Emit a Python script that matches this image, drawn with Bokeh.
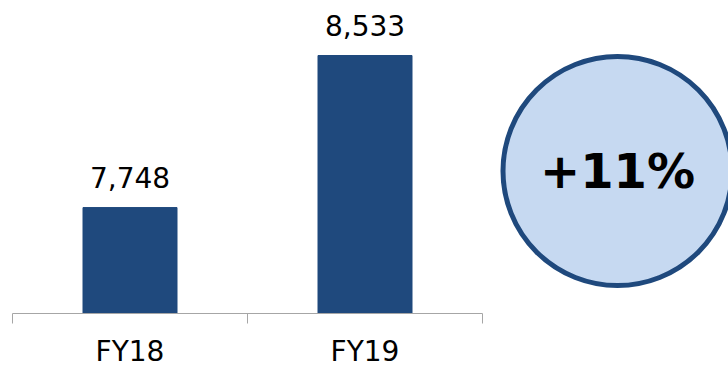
from bokeh.plotting import figure
from bokeh.layouts import row
from bokeh.models import Range1d, LinearAxis, FixedTicker, ColumnDataSource
from bokeh.core.properties import value
from bokeh.embed import file_html
from bokeh.resources import INLINE

# ---- data ----
categories = ["FY18", "FY19"]
values = [7748, 8533]
value_labels = ["7,748", "8,533"]
growth_label = "+11%"

# ---- styles ----
BAR_COLOR = "#1F497D"
AXIS_COLOR = "#A6A6A6"
CIRCLE_FILL = "#C6D9F1"
CIRCLE_LINE = "#1F497D"
FONT = "DejaVu Sans"
Y_MIN, Y_MAX = 7201, 8817

n = len(categories)
centers = [i + 0.5 for i in range(n)]
edges = list(range(n + 1))
src = ColumnDataSource(dict(x=centers, val=values, lab=value_labels))

p = figure(width=490, height=371,
           x_range=Range1d(0, n),
           y_range=Range1d(Y_MIN, Y_MAX),
           output_backend="svg", toolbar_location=None,
           x_axis_location=None, y_axis_location=None,
           min_border_left=12, min_border_right=8,
           min_border_top=0, min_border_bottom=58)
p.outline_line_color = None
p.grid.visible = False
p.background_fill_color = "white"
p.border_fill_color = "white"

cat_axis = LinearAxis(ticker=FixedTicker(ticks=centers, minor_ticks=edges),
                      major_label_overrides={c: lab for c, lab in zip(centers, categories)},
                      major_tick_line_color=None,
                      major_tick_in=0, major_tick_out=0,
                      minor_tick_in=0, minor_tick_out=10,
                      minor_tick_line_color=AXIS_COLOR,
                      axis_line_color=AXIS_COLOR,
                      major_label_text_font_size="28px",
                      major_label_text_font=FONT,
                      major_label_text_color="black",
                      major_label_standoff=11)
p.add_layout(cat_axis, "below")

p.vbar(x="x", top="val", bottom=Y_MIN, width=0.4, source=src,
       fill_color=BAR_COLOR, line_color=BAR_COLOR)
p.text(x="x", y="val", text="lab", source=src,
       text_align="center", text_baseline="alphabetic", y_offset=-30,
       text_font=value(FONT), text_font_size="28px", text_color="black")

q = figure(width=238, height=371,
           x_range=Range1d(0, 238), y_range=Range1d(58, 371),
           output_backend="svg", toolbar_location=None,
           x_axis_location=None, y_axis_location=None,
           min_border_left=0, min_border_right=0,
           min_border_top=0, min_border_bottom=58)
q.outline_line_color = None
q.grid.visible = False

CX, CY, R = 127, 200.5, 114.5
q.circle(x=[CX], y=[CY], radius=R, fill_color=CIRCLE_FILL,
         line_color=CIRCLE_LINE, line_width=5)
q.text(x=[CX], y=[CY], text=[growth_label], text_align="center",
       text_baseline="middle", text_font=value(FONT), text_font_style="bold",
       text_font_size="48px", text_color="black")

layout = row(p, q)
open("out.html", "w").write(file_html(layout, INLINE))
